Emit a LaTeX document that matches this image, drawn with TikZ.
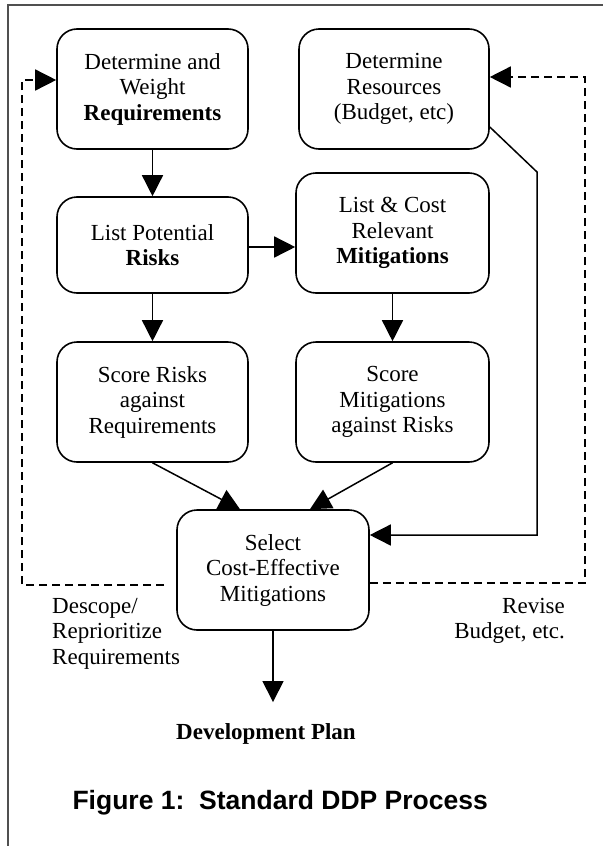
\documentclass[tikz,border=0pt]{standalone}
\usepackage{fontspec}
\setmainfont{Liberation Serif}
\newfontfamily\capfont{Liberation Sans}
\definecolor{framegray}{RGB}{80,80,80}
\usepackage{tikz}
\usetikzlibrary{arrows.meta,positioning,calc}
\newcommand{\boxfont}{\fontsize{23}{25.5}\selectfont}

\begin{document}
\begin{tikzpicture}[x=1pt,y=-1pt,
    stepbox/.style={draw,line width=1.6pt,rounded corners=20pt,align=center,
      font=\boxfont,minimum width=191pt,minimum height=120pt,inner sep=0pt},
    flow/.style={line width=1.5pt,-{Triangle[length=21pt,width=21pt]}},
    loop/.style={flow,dash pattern=on 8pt off 5pt},
    note/.style={font=\boxfont,inner sep=0pt}]
        \useasboundingbox (0,0) rectangle (603,846);
        \draw[framegray,line width=1.6pt] (8,846) -- (8,5) -- (603,5);
        % boxes
        \node[stepbox] (req) at (152.5,89) {Determine and\\Weight\\\textbf{Requirements}};
        \node[stepbox,minimum width=190pt] (res) at (394,89) {Determine\\Resources\\(Budget, etc)};
        \node[stepbox,minimum height=96pt] (risks) at (152.5,245) {List Potential\\\textbf{Risks}};
        \node[stepbox,minimum width=193pt] (mits) at (392.5,233) {List \& Cost\\Relevant\\\textbf{Mitigations}};
        \node[stepbox] (srisk) at (152.5,402) {Score Risks\\against\\Requirements};
        \node[stepbox,minimum width=193pt] (smit) at (392.5,402) {Score\\Mitigations\\against Risks};
        \node[stepbox,minimum width=192pt] (sel) at (273,570) {Select\\Cost-Effective\\Mitigations};
        \node[font=\boxfont\bfseries] (plan) at (266,734) {Development Plan};
        % connectors
        \draw[flow] (req) -- (risks);
        \draw[flow] ([yshift=-2pt]risks.east) -- ([yshift=-14pt]mits.west);
        \draw[flow] (risks) -- (srisk);
        \draw[flow] (mits) -- (smit);
        \draw[flow] (srisk.south) -- ([xshift=-33pt]sel.north);
        \draw[flow] (smit.south) -- ([xshift=37pt]sel.north);
        \draw[flow] ([yshift=-38pt]res.east) -- (537,172) |- ([yshift=35pt]sel.east);
        \draw[flow] (sel.south) -- ($(sel.south |- plan.north)+(0,-18)$);
        \draw[loop] ([yshift=-13pt]sel.east) -| (585,77) -- ([yshift=12pt]res.east);
        \draw[loop] ([xshift=-12pt,yshift=-15pt]sel.west) -| (22,80) -- ([yshift=9pt]req.west);
        % labels
        \node[note,align=left,anchor=north west] (descope) at (52,598) {Descope/\\Reprioritize\\Requirements};
        \node[note,align=right,anchor=north east] (revise) at (565,598) {Revise\\Budget, etc.};
        \node[font=\capfont\bfseries\fontsize{26.5}{30}\selectfont,anchor=west] (cap) at (69,803) {Figure 1:\ \ Standard DDP Process};
      \end{tikzpicture}
\end{document}
